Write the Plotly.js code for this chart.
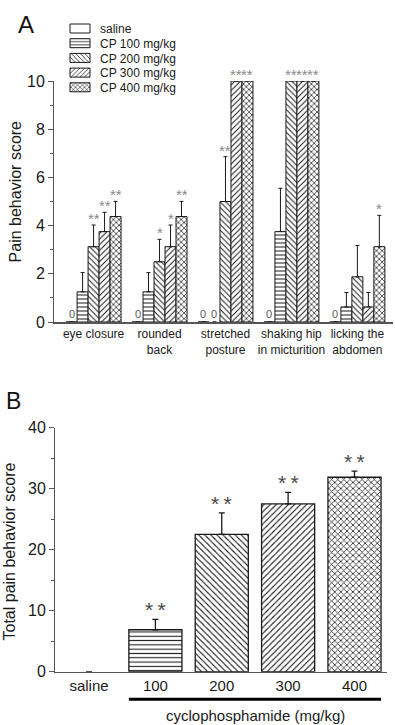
<!DOCTYPE html>
<html>
<head>
<meta charset="utf-8">
<script src="https://cdn.plot.ly/plotly-3.0.1.min.js"></script>
<style>
  html, body { margin: 0; padding: 0; background: #fff; }
  #chart { width: 395px; height: 725px; }
</style>
</head>
<body>
<div id="chart"></div>
<script>
// Panel A: individual pain behaviours per treatment group
const behaviors = ['eye closure', 'rounded<br>back', 'stretched<br>posture', 'shaking hip<br>in micturition', 'licking the<br>abdomen'];
const groupNames = ['saline', 'CP 100 mg/kg', 'CP 200 mg/kg', 'CP 300 mg/kg', 'CP 400 mg/kg'];

const saline    = [0, 0, 0, 0, 0];
const salineErr = [0, 0, 0, 0, 0];
const salineSig = ['', '', '', '', ''];

const cp100    = [1.25, 1.25, 0, 3.75, 0.625];
const cp100Err = [0.8, 0.8, 0, 1.8, 0.6];
const cp100Sig = ['', '', '', '', ''];

const cp200    = [3.125, 2.5, 5, 10, 1.875];
const cp200Err = [0.9, 0.93, 1.86, 0, 1.3];
const cp200Sig = ['**', '*', '**', '**', ''];

const cp300    = [3.75, 3.125, 10, 10, 0.625];
const cp300Err = [0.8, 0.9, 0, 0, 0.6];
const cp300Sig = ['**', '*', '**', '**', ''];

const cp400    = [4.375, 4.375, 10, 10, 3.125];
const cp400Err = [0.63, 0.63, 0, 0, 1.3];
const cp400Sig = ['**', '**', '**', '**', '*'];

// Panel B: total pain behaviour score
const doseLabels = ['saline', '100', '200', '300', '400'];
const totalScore = [0, 6.875, 22.5, 27.5, 31.875];
const totalErr   = [0, 1.7, 3.55, 1.9, 1.0];
const totalSig   = ['', '**', '**', '**', '**'];

const W = 395, H = 725;
const FONT = 'Liberation Sans, Arial, Helvetica, sans-serif';
const INK = '#1a1a1a';
const AXIS = '#555';
const px = v => v / W;          // pixel -> paper x
const py = v => 1 - v / H;      // pixel -> paper y

const seriesVals = [saline, cp100, cp200, cp300, cp400];
const seriesErr  = [salineErr, cp100Err, cp200Err, cp300Err, cp400Err];
const seriesSig  = [salineSig, cp100Sig, cp200Sig, cp300Sig, cp400Sig];
const shapes = ['', '-', '\\', '/', 'x'];
const solidity = { '': 0.25, '-': 0.25, '\\': 0.25, '/': 0.25, 'x': 0.33 };

const nGroups = seriesVals.length;
const barGap = 1 / 6;
const barW = (1 - barGap) / nGroups;

// empty bars (score 0) get no outline and no error cap on the baseline
const outline = (vals, w) => vals.map(v => (v === 0 ? 0 : w));
const errFor = (vals, errs) => vals.map((v, i) => (v === 0 ? null : errs[i]));
const noMinus = vals => vals.map(v => (v === 0 ? null : 0));

const data = seriesVals.map((vals, j) => ({
  type: 'bar',
  name: groupNames[j],
  x: behaviors,
  y: vals,
  xaxis: 'x', yaxis: 'y',
  cliponaxis: false,
  hoverinfo: 'skip',
  marker: {
    color: 'white',
    line: { color: INK, width: j === 0 ? 1 : outline(vals, 1) },
    pattern: { shape: shapes[j], fgcolor: INK, bgcolor: 'white', size: 4, solidity: solidity[shapes[j]] }
  },
  error_y: {
    type: 'data', symmetric: false,
    array: errFor(vals, seriesErr[j]), arrayminus: noMinus(vals),
    color: INK, thickness: 1, width: 2
  }
}));

data.push({
  type: 'bar',
  name: 'total',
  showlegend: false,
  x: doseLabels,
  y: totalScore,
  width: 0.8,
  xaxis: 'x2', yaxis: 'y2',
  cliponaxis: false,
  hoverinfo: 'skip',
  marker: {
    color: 'white',
    line: { color: INK, width: outline(totalScore, 1.3) },
    pattern: {
      shape: shapes, fgcolor: INK, bgcolor: 'white', size: 4.3,
      solidity: shapes.map(s => solidity[s])
    }
  },
  error_y: {
    type: 'data', symmetric: false,
    array: errFor(totalScore, totalErr), arrayminus: noMinus(totalScore),
    color: INK, thickness: 1.3, width: 3
  }
});

const annotations = [];

// significance stars and zero markers above the panel A bars
seriesVals.forEach((vals, j) => {
  vals.forEach((v, i) => {
    const xpos = i + (j - (nGroups - 1) / 2) * barW;
    if (seriesSig[j][i]) {
      annotations.push({
        xref: 'x', yref: 'y', x: xpos, y: v + seriesErr[j][i],
        text: seriesSig[j][i], showarrow: false,
        yanchor: 'bottom', yshift: -4,
        font: { family: FONT, size: 15, color: '#8a8a8a' }
      });
    }
    if (v === 0) {
      annotations.push({
        xref: 'x', yref: 'y', x: xpos, y: 0,
        text: '0', showarrow: false, yanchor: 'bottom', yshift: 0,
        font: { family: FONT, size: 11, color: '#5a5a5a' }
      });
    }
  });
});

// significance stars above the panel B bars
totalScore.forEach((v, i) => {
  if (totalSig[i]) {
    annotations.push({
      xref: 'x2', yref: 'y2', x: i, y: v + totalErr[i],
      text: totalSig[i].split('').join('\u2009'), showarrow: false,
      yanchor: 'bottom', yshift: -4,
      font: { family: FONT, size: 21, color: '#4a4a4a' }
    });
  }
});

// panel letters, axis titles and the dose caption
annotations.push(
  { xref: 'paper', yref: 'paper', x: px(25.5), y: py(25), text: 'A', showarrow: false,
    xanchor: 'center', yanchor: 'middle', font: { family: FONT, size: 24, color: '#111' } },
  { xref: 'paper', yref: 'paper', x: px(13.5), y: py(401), text: 'B', showarrow: false,
    xanchor: 'center', yanchor: 'middle', font: { family: FONT, size: 23, color: '#111' } },
  { xref: 'paper', yref: 'paper', x: px(15.7), y: py(191.7), text: 'Pain behavior score', showarrow: false,
    textangle: -90, xanchor: 'center', yanchor: 'middle', font: { family: FONT, size: 16, color: INK } },
  { xref: 'paper', yref: 'paper', x: px(9), y: py(551.5), text: 'Total pain behavior score', showarrow: false,
    textangle: -90, xanchor: 'center', yanchor: 'middle', font: { family: FONT, size: 16, color: INK } },
  { xref: 'paper', yref: 'paper', x: px(255.3), y: py(715), text: 'cyclophosphamide (mg/kg)', showarrow: false,
    xanchor: 'center', yanchor: 'middle', font: { family: FONT, size: 15, color: INK } }
);

const layout = {
  width: W, height: H,
  margin: { l: 0, r: 0, t: 0, b: 0 },
  paper_bgcolor: 'white', plot_bgcolor: 'rgba(0,0,0,0)',
  font: { family: FONT, color: INK },
  barmode: 'group', bargap: barGap, bargroupgap: 0,
  showlegend: true,
  legend: {
    x: px(60), y: py(14), xanchor: 'left', yanchor: 'top',
    bgcolor: 'rgba(0,0,0,0)', borderwidth: 0,
    traceorder: 'normal', tracegroupgap: 0,
    font: { family: FONT, size: 12, color: INK }
  },
  xaxis: {
    domain: [px(54), px(393)], anchor: 'y',
    type: 'category', range: [-0.6, 4.54],
    showline: true, linecolor: AXIS, linewidth: 1.5,
    ticks: '', showgrid: false, zeroline: false,
    tickfont: { family: FONT, size: 12, color: INK }
  },
  yaxis: {
    domain: [py(322), py(81)], anchor: 'x',
    range: [0, 10], dtick: 2, tick0: 0,
    showline: true, linecolor: AXIS, linewidth: 1,
    ticks: 'outside', ticklen: 5, tickcolor: AXIS,
    minor: { dtick: 1, ticks: 'outside', ticklen: 3, tickcolor: AXIS, showgrid: false },
    showgrid: false, zeroline: false,
    tickfont: { family: FONT, size: 16, color: INK }
  },
  xaxis2: {
    domain: [px(55), px(387)], anchor: 'y2',
    type: 'category', range: [-0.513, 4.49],
    showline: true, linecolor: AXIS, linewidth: 1.5,
    ticks: '', showgrid: false, zeroline: false,
    tickfont: { family: FONT, size: 15, color: INK }
  },
  yaxis2: {
    domain: [py(671.7), py(427.7)], anchor: 'x2',
    range: [0, 40], dtick: 10, tick0: 0,
    showline: true, linecolor: AXIS, linewidth: 1,
    ticks: 'outside', ticklen: 5, tickcolor: AXIS,
    minor: { dtick: 5, ticks: 'outside', ticklen: 3, tickcolor: AXIS, showgrid: false },
    showgrid: false, zeroline: false,
    tickfont: { family: FONT, size: 16, color: INK }
  },
  shapes: [
    // bracket under the cyclophosphamide doses
    { type: 'line', xref: 'x2', yref: 'paper', x0: 1 - 0.4, x1: doseLabels.length - 1 + 0.4,
      y0: py(699.3), y1: py(699.3), line: { color: '#000', width: 3 } }
  ],
  annotations: annotations
};

Plotly.newPlot('chart', data, layout, { staticPlot: true }).then(gd => {
  // compact legend rows with wide, flat swatches
  const items = gd.querySelectorAll('.legend .traces');
  let x0 = null, y0 = null;
  items.forEach((g, i) => {
    const m = /translate\(\s*([-\d.e]+)[ ,]+([-\d.e]+)\s*\)/.exec(g.getAttribute('transform') || '');
    const tx = m ? parseFloat(m[1]) : 0;
    const ty = m ? parseFloat(m[2]) : 0;
    if (y0 === null) { x0 = tx; y0 = ty; }
    g.setAttribute('transform', 'translate(' + x0 + ',' + (y0 + i * 14.7) + ')');
    g.querySelectorAll('.legendpoints path').forEach(p => p.setAttribute('d', 'M10,4.5H-10V-4.5H10Z'));
  });
});
</script>
</body>
</html>
